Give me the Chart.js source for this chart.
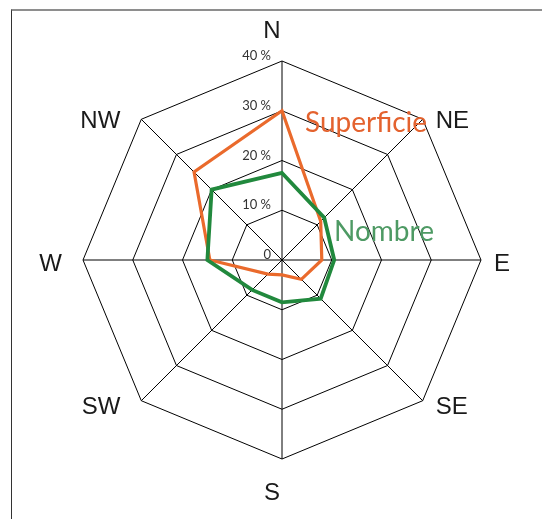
<!DOCTYPE html>
<html>
<head>
<meta charset="utf-8">
<script src="https://cdn.jsdelivr.net/npm/chart.js@4.4.1/dist/chart.umd.min.js"></script>
<style>
  html, body { margin: 0; padding: 0; background: #fff; overflow: hidden; }
  #frame {
    position: absolute; left: 11px; top: 9px; right: 0; bottom: 0;
    border-top: 2px solid #8e8e8e; border-left: 1px solid #333;
  }
  #wind { position: absolute; left: 0; top: 0; }
</style>
</head>
<body>
<div id="frame"></div>
<canvas id="wind" width="542" height="519"></canvas>
<script>
const directions = ['N', 'NE', 'E', 'SE', 'S', 'SW', 'W', 'NW'];
const superficie = [30, 11, 8, 5.5, 3, 4, 14.5, 25];
const nombre = [17.5, 12, 10.5, 11, 8.5, 8.5, 15, 20];
const tickValues = [0, 10, 20, 30, 40];

const ORANGE = '#ea6a2c';
const GREEN = '#21893d';

// direction names, % ticks and the two series names, all placed off the radial scale
const roseLabels = {
  id: 'roseLabels',
  afterDraw(chart) {
    const r = chart.scales.r;
    const ctx = chart.ctx;
    ctx.save();

    ctx.font = '24px "Liberation Sans", Arial, sans-serif';
    ctx.fillStyle = '#1a1a1a';
    ctx.textBaseline = 'middle';
    directions.forEach((name, i) => {
      const p = r.getPointPosition(i, r.drawingArea);
      const vx = p.x - r.xCenter, vy = p.y - r.yCenter;
      const sx = Math.abs(vx) < 1 ? 0 : Math.sign(vx);
      const sy = Math.abs(vy) < 1 ? 0 : Math.sign(vy);
      let x, y;
      if (sx === 0) {
        ctx.textAlign = 'center';
        x = p.x - 10;
        y = p.y + 2 + sy * 32;
      } else {
        ctx.textAlign = sx > 0 ? 'left' : 'right';
        x = p.x + sx * 17 - 4;
        y = p.y + 4.5 + sy * 2.5;
      }
      ctx.fillText(name, x, y);
    });

    ctx.font = '13px Lato, sans-serif';
    ctx.fillStyle = '#333';
    ctx.textAlign = 'right';
    tickValues.forEach(v => {
      const d = r.getDistanceFromCenterForValue(v);
      ctx.fillText(v === 0 ? '0' : v + ' %', r.xCenter - 11, r.yCenter - d - 5);
    });

    ctx.font = '28px Lato, sans-serif';
    ctx.textAlign = 'left';
    ctx.textBaseline = 'alphabetic';
    ctx.fillStyle = '#e4622e';
    ctx.fillText('Superficie', 305, 132);
    ctx.fillStyle = '#4e9a64';
    ctx.fillText('Nombre', 334, 241);

    ctx.restore();
  }
};

new Chart(document.getElementById('wind'), {
  type: 'radar',
  data: {
    labels: directions,
    datasets: [
      { label: 'Superficie', data: superficie, borderColor: ORANGE, borderWidth: 3.2, fill: false, order: 1 },
      { label: 'Nombre', data: nombre, borderColor: GREEN, borderWidth: 3.8, fill: false, order: 0 }
    ]
  },
  options: {
    responsive: false,
    animation: false,
    layout: { padding: { left: 83, right: 61, top: 61, bottom: 60 } },
    elements: {
      line: { tension: 0, borderJoinStyle: 'miter' },
      point: { radius: 0, hoverRadius: 0 }
    },
    plugins: {
      legend: { display: false },
      tooltip: { enabled: false }
    },
    scales: {
      r: {
        min: 0,
        max: 40,
        ticks: { stepSize: 10, display: false },
        pointLabels: { display: false },
        grid: { color: '#000', lineWidth: 1 },
        angleLines: { color: '#000', lineWidth: 1 }
      }
    }
  },
  plugins: [roseLabels]
});
</script>
</body>
</html>
